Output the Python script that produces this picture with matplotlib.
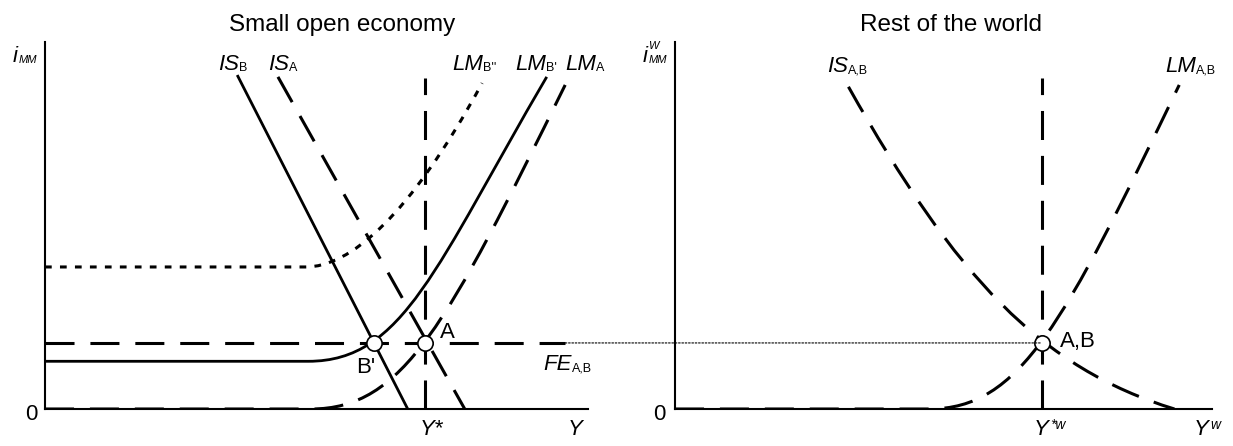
import matplotlib
matplotlib.use("Agg")
import matplotlib.pyplot as plt
from matplotlib.path import Path
from matplotlib.patches import PathPatch, ConnectionPatch

plt.rcParams['font.family'] = ['Liberation Sans', 'DejaVu Sans']

# ---- small open economy (left) ----
y_star = 7.0          # full-employment output Y*
i_fe = 1.8            # world interest rate (FE line)
b_prime_x = 6.05      # output at point B'
fe_end = 9.58
vert_top = 9.02
is_b = [(3.54, 9.10), (6.68, 0.0)]
is_a = [(4.29, 9.05), (7.73, 0.0)]
# flat part, then cubic bezier control points
lm_a = [(0.0, 0.0), (4.9, 0.0), (6.6, 0.0), (7.4, 2.3), (9.58, 8.83)]
lm_b1 = [(0.0, 1.3), (4.85, 1.3), (6.6, 1.3), (7.2, 3.9), (9.24, 9.05)]
lm_b2 = [(0.0, 3.87), (4.8, 3.87), (5.6, 3.87), (6.7, 5.2), (8.05, 8.88)]

# ---- rest of the world (right) ----
yw_star = 6.83
is_ab = [(3.23, 8.78), (5.23, 3.58), (6.8, 1.125), (9.3, 0.0)]
lm_ab = [(0.0, 0.0), (4.73, 0.0), (6.43, 0.0), (7.23, 2.3), (9.39, 8.83)]

DASH = (0, (9.5, 5.2))
DOT = (0, (2.2, 2.7))
LW = 2.2


def lm_patch(pts, **kw):
    codes = [Path.MOVETO, Path.LINETO, Path.CURVE4, Path.CURVE4, Path.CURVE4]
    return PathPatch(Path(pts, codes), fill=False, capstyle='butt', **kw)


def label(ax, x, y, main, sub='', sup='', size=16, small=9, italic=True,
          sub_italic=False, sup_italic=False, sup_dy=-2.5, sup_dx=0.3):
    t = ax.text(x, y, main, fontsize=size, style='italic' if italic else 'normal',
                ha='left', va='baseline', clip_on=False)
    if sub:
        ax.annotate(sub, xy=(1, 0), xycoords=t, xytext=(0.3, 2.8),
                    textcoords='offset points', fontsize=small,
                    style='italic' if sub_italic else 'normal',
                    ha='left', va='baseline', annotation_clip=False)
    if sup:
        ax.annotate(sup, xy=(1, 1), xycoords=t, xytext=(sup_dx, sup_dy),
                    textcoords='offset points', fontsize=small,
                    style='italic' if sup_italic else 'normal',
                    ha='left', va='baseline', annotation_clip=False)
    return t


def setup(ax):
    ax.set_xlim(0, 10)
    ax.set_ylim(0, 10)
    for s in ['top', 'right']:
        ax.spines[s].set_visible(False)
    for s in ['left', 'bottom']:
        ax.spines[s].set_linewidth(1.5)
    ax.set_xticks([])
    ax.set_yticks([])
    ax.patch.set_alpha(0)


fig = plt.figure(figsize=(12.33, 4.46), dpi=100)
axL = fig.add_axes([45 / 1233, 37 / 446, 543 / 1233, 367 / 446])
axR = fig.add_axes([675 / 1233, 37 / 446, 537 / 1233, 367 / 446])
setup(axL)
setup(axR)

# left panel curves
axL.plot([0, fe_end], [i_fe, i_fe], color='black', lw=LW, linestyle=DASH,
         dash_capstyle='butt')
axL.plot([y_star, y_star], [0, vert_top], color='black', lw=LW, linestyle=DASH,
         dash_capstyle='butt')
axL.plot(*zip(*is_b), color='black', lw=2.0, solid_capstyle='butt')
axL.plot(*zip(*is_a), color='black', lw=LW, linestyle=DASH, dash_capstyle='butt')
axL.add_patch(lm_patch(lm_a, edgecolor='black', lw=LW, linestyle=DASH))
axL.add_patch(lm_patch(lm_b1, edgecolor='black', lw=2.0, linestyle='-'))
axL.add_patch(lm_patch(lm_b2, edgecolor='black', lw=LW, linestyle=DOT))
axL.plot([y_star, b_prime_x], [i_fe, i_fe], 'o', ms=11, mfc='white',
         mec='black', mew=1.2, zorder=5, clip_on=False)

# right panel curves
axR.plot([yw_star, yw_star], [0, vert_top], color='black', lw=LW, linestyle=DASH,
         dash_capstyle='butt')
axR.add_patch(PathPatch(Path(is_ab, [Path.MOVETO, Path.CURVE4, Path.CURVE4, Path.CURVE4]),
                        fill=False, edgecolor='black', lw=LW, linestyle=DASH,
                        capstyle='butt'))
axR.add_patch(lm_patch(lm_ab, edgecolor='black', lw=LW, linestyle=DASH))

con = ConnectionPatch(xyA=(fe_end, i_fe), coordsA=axL.transData,
                      xyB=(yw_star, i_fe), coordsB=axR.transData,
                      color='black', lw=0.8, linestyle=(0, (1.5, 1.5)))
fig.add_artist(con)
axR.plot([yw_star], [i_fe], 'o', ms=11, mfc='white', mec='black', mew=1.2,
         zorder=5, clip_on=False)

# titles
axL.text(0.547, 1.045, 'Small open economy', transform=axL.transAxes,
         ha='center', va='center', fontsize=17.5)
axR.text(0.514, 1.045, 'Rest of the world', transform=axR.transAxes,
         ha='center', va='center', fontsize=17.5)

# left labels
label(axL, -0.589, 9.455, 'i', sub='MM', sub_italic=True, small=8)
label(axL, 3.186, 9.237, 'IS', sub='B')
label(axL, 4.107, 9.237, 'IS', sub='A')
label(axL, 7.495, 9.237, 'LM', sub="B''")
label(axL, 8.656, 9.237, 'LM', sub="B'")
label(axL, 9.576, 9.237, 'LM', sub='A')
label(axL, 7.274, 1.935, 'A', italic=False)
label(axL, 5.727, 0.981, "B'", italic=False)
label(axL, 9.171, 1.063, 'FE', sub='A,B')
label(axL, 6.906, -0.708, 'Y*')
label(axL, 9.632, -0.708, 'Y')
axL.text(-0.147, -0.30, '0', fontsize=16, ha='right', va='baseline')

# right labels
label(axR, -0.596, 9.455, 'i', sub='MM', sup='W', sub_italic=True,
      sup_italic=True, small=8)
label(axR, 2.830, 9.183, 'IS', sub='A,B')
label(axR, 9.125, 9.183, 'LM', sub='A,B')
label(axR, 7.17, 1.689, 'A,B', italic=False)
label(axR, 6.685, -0.708, 'Y', sup='*w', sup_italic=True, small=10,
      sup_dy=-7.5, sup_dx=1.0)
label(axR, 9.665, -0.708, 'Y', sup='w', sup_italic=True, small=10,
      sup_dy=-7.5, sup_dx=1.0)
axR.text(-0.168, -0.30, '0', fontsize=16, ha='right', va='baseline')

fig.savefig('out.png', dpi=100)
